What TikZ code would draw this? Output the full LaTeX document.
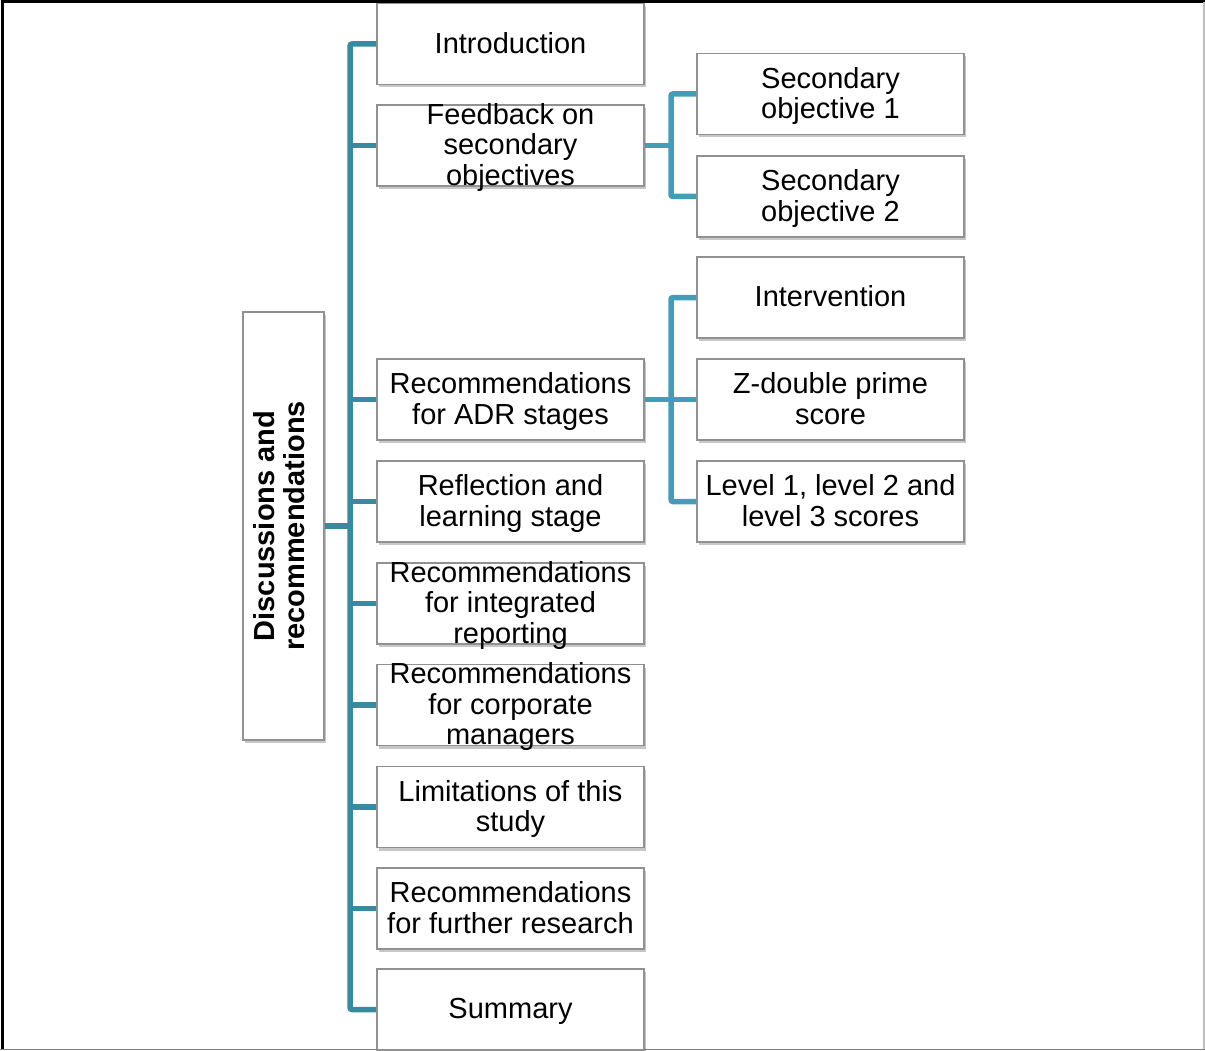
\documentclass[tikz,border=0pt]{standalone}
\usepackage{fontspec}
\setmainfont{Liberation Sans}
\usetikzlibrary{shadows}
\definecolor{linkteal}{RGB}{56,138,160}
\definecolor{sublinkteal}{RGB}{66,158,184}
\definecolor{boxgray}{RGB}{145,145,145}
\newcommand{\boxtext}[1]{\smash{\raisebox{-9.5pt}{\begin{tabular}{@{}c@{}}#1\end{tabular}}}}

\begin{document}
\begin{tikzpicture}[x=1pt, y=-1pt,
		box/.style={draw=boxgray, line width=1.6pt, fill=white, inner sep=0pt,
			minimum width=267pt, minimum height=81pt,
			font=\fontsize{29}{30.5}\selectfont,
			drop shadow={shadow xshift=1.5pt, shadow yshift=-3pt, opacity=0.22, fill=black}},
		link/.style={draw=linkteal, line width=5.5pt, rounded corners=2pt},
		sublink/.style={link, draw=sublinkteal}]
			\useasboundingbox (0,0) rectangle (1205,1051);

			% Frame round the figure
			\draw[line width=3pt] (2,1050) -- (2,2) -- (1205,2);
			\draw[gray!50, line width=1.5pt] (1204,2) -- (1204,1050);
			\draw[gray, line width=1.5pt] (0,1049.5) -- (1205,1049.5);

			% Root
			\node[box, minimum width=81pt, minimum height=428pt] (root) at (283.5,526)
				{\rotatebox{90}{\bfseries\begin{tabular}{@{}c@{}}Discussions and\\recommendations\end{tabular}}};

			% First level
			\node[box] (intro) at (510.5,44) {\boxtext{Introduction}};
			\node[box] (feedback) at (510.5,145.5) {\boxtext{Feedback on\\secondary\\objectives}};
			\node[box] (adr) at (510.5,399.5) {\boxtext{Recommendations\\for ADR stages}};
			\node[box] (reflect) at (510.5,501.5) {\boxtext{Reflection and\\learning stage}};
			\node[box] (integrated) at (510.5,603.5) {\boxtext{Recommendations\\for integrated\\reporting}};
			\node[box] (managers) at (510.5,705) {\boxtext{Recommendations\\for corporate\\managers}};
			\node[box] (limits) at (510.5,807) {\boxtext{Limitations of this\\study}};
			\node[box] (further) at (510.5,908.5) {\boxtext{Recommendations\\for further research}};
			\node[box] (summary) at (510.5,1009.5) {\boxtext{Summary}};

			% Second level
			\node[box] (objone) at (830.5,94) {\boxtext{Secondary\\objective 1}};
			\node[box] (objtwo) at (830.5,196.5) {\boxtext{Secondary\\objective 2}};
			\node[box] (interv) at (830.5,297.5) {\boxtext{Intervention}};
			\node[box] (zscore) at (830.5,399.5) {\boxtext{Z-double prime\\score}};
			\node[box] (levels) at (830.5,501.5) {\boxtext{Level 1, level 2 and\\level 3 scores}};

			% Connectors
			\coordinate (trunk) at (350,0);
			\coordinate (subtrunk) at (671,0);
			\draw[link] (root.east) -- (trunk |- root.east);
			\draw[link] (intro.west) -| (trunk |- root.east) |- (summary.west);
			\foreach \n in {feedback,adr,reflect,integrated,managers,limits,further}
				\draw[link] (trunk |- \n.west) -- (\n.west);

			\draw[sublink] (feedback.east) -- (subtrunk |- feedback.east);
			\draw[sublink] (objone.west) -| (subtrunk |- feedback.east) |- (objtwo.west);
			\draw[sublink] (adr.east) -- (zscore.west);
			\draw[sublink] (interv.west) -| (subtrunk |- adr.east) |- (levels.west);
		\end{tikzpicture}
\end{document}
